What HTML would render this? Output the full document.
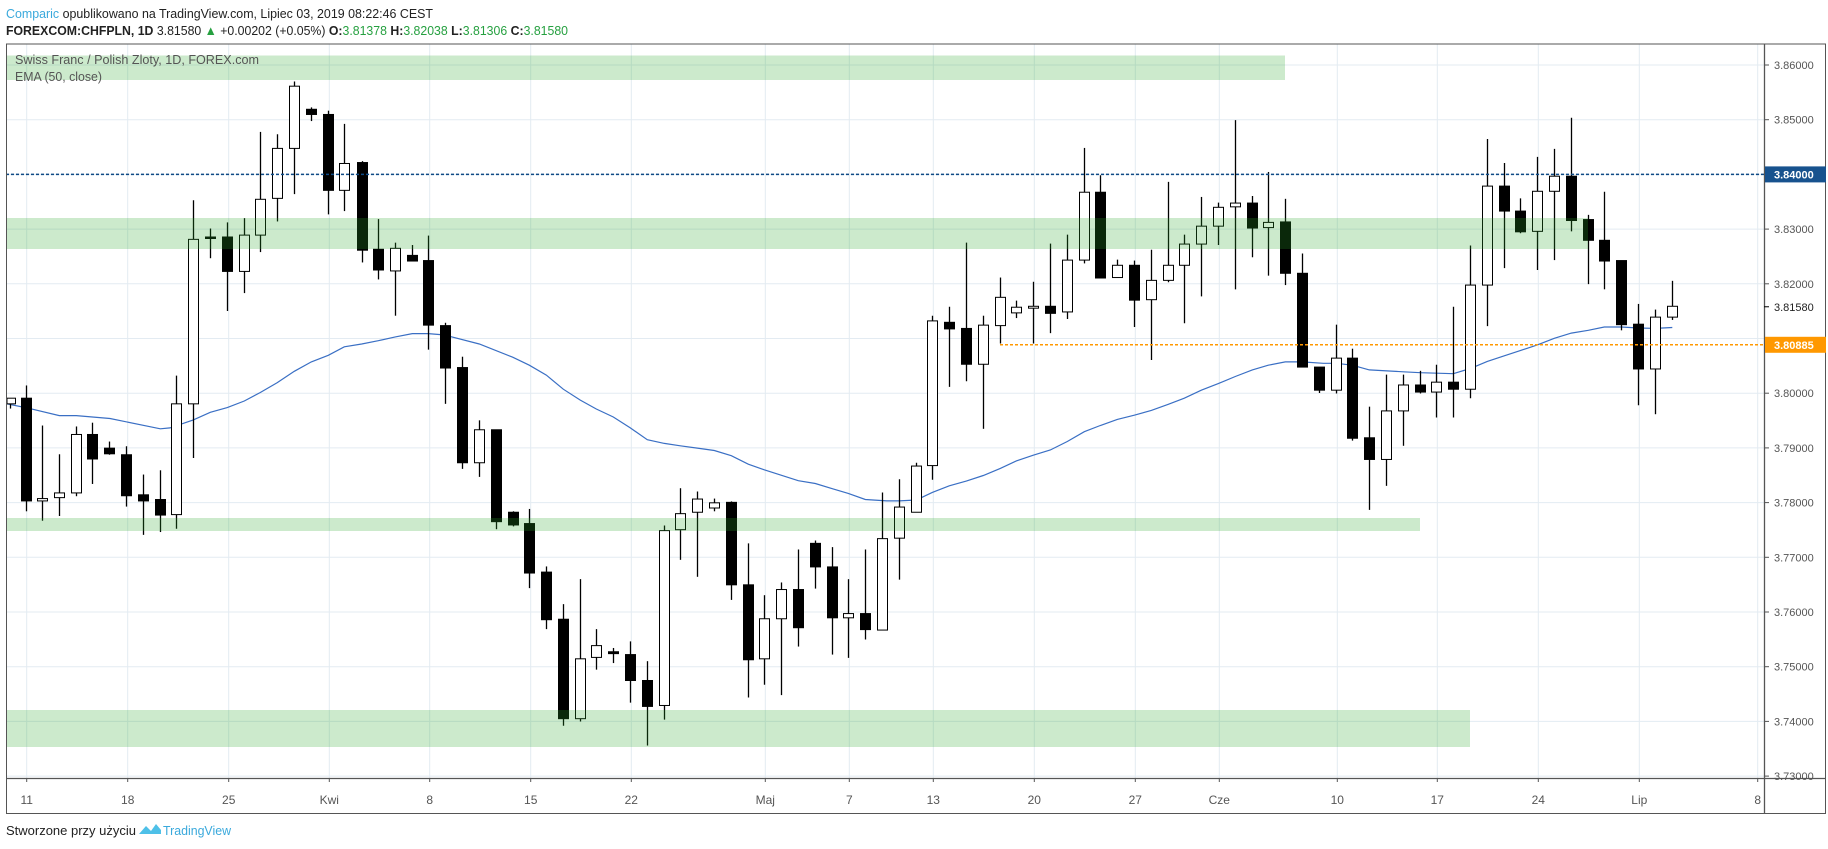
<!DOCTYPE html>
<html><head><meta charset="utf-8"><style>
html,body{margin:0;padding:0;background:#fff;width:1828px;height:849px;overflow:hidden}
svg{display:block}
text{font-family:"Liberation Sans",sans-serif}
</style></head><body>
<svg id="s" width="1828" height="849" viewBox="0 0 1828 849" xmlns="http://www.w3.org/2000/svg">
<text x="6" y="18" font-size="13" fill="#222" textLength="427" lengthAdjust="spacingAndGlyphs"><tspan fill="#3aa9dc">Comparic</tspan> opublikowano na TradingView.com, Lipiec 03, 2019 08:22:46 CEST</text>
<text x="6" y="35" font-size="13" fill="#222" textLength="562" lengthAdjust="spacingAndGlyphs"><tspan font-weight="bold">FOREXCOM:CHFPLN, 1D</tspan> 3.81580 <tspan fill="#26a040">▲</tspan> +0.00202 (+0.05%) <tspan font-weight="bold">O:</tspan><tspan fill="#26a040">3.81378</tspan> <tspan font-weight="bold">H:</tspan><tspan fill="#26a040">3.82038</tspan> <tspan font-weight="bold">L:</tspan><tspan fill="#26a040">3.81306</tspan> <tspan font-weight="bold">C:</tspan><tspan fill="#26a040">3.81580</tspan></text>
<g id="grid"></g>
<g id="ema"></g>
<g id="candles"></g>
<g id="bands"></g>
<g id="lines"></g>
<g id="axes"></g>
<text x="15" y="64" font-size="13" fill="#555" textLength="244" lengthAdjust="spacingAndGlyphs">Swiss Franc / Polish Zloty, 1D, FOREX.com</text>
<text x="15" y="81" font-size="13" fill="#555" textLength="87" lengthAdjust="spacingAndGlyphs">EMA (50, close)</text>
<text x="6" y="835" font-size="13" fill="#222" textLength="130" lengthAdjust="spacingAndGlyphs">Stworzone przy użyciu</text>
<path d="M139 834 L146 826 L151 831 L156 824 L161 830 L161 834 Z" fill="#4ec0e8"/>
<text x="163" y="835" font-size="13" fill="#3aa9dc" textLength="68" lengthAdjust="spacingAndGlyphs">TradingView</text>
</svg>
<script>
var NS="http://www.w3.org/2000/svg";
function el(p,t,a){var e=document.createElementNS(NS,t);for(var k in a)e.setAttribute(k,a[k]);document.getElementById(p).appendChild(e);return e;}
function Y(zy){return 40+zy*0.4713;}
function P(p){return 65+(3.86-p)*5470;}
var L=6,R=1764,T=44,B=778;
// grid
var vx=[26.7,127.7,228.7,329.3,429.7,530.7,631.3,765.3,849.3,933.3,1034.3,1135.3,1219.3,1337.3,1437.3,1538.3,1639.3,1757.7];
var vl=["11","18","25","Kwi","8","15","22","Maj","7","13","20","27","Cze","10","17","24","Lip","8"];
vx.forEach(function(x){el("grid","line",{x1:x,x2:x,y1:T,y2:B,stroke:"#e3ebf2","stroke-width":1});});
for(var i=0;i<=13;i++){var y=P(3.86-i*0.01);el("grid","line",{x1:L,x2:R,y1:y,y2:y,stroke:"#e3ebf2","stroke-width":1});}
// bands
[[55.5,80,1285],[218,249,1588],[518,531,1420],[710,747,1470]].forEach(function(b){
el("bands","rect",{x:L+1,y:b[0],width:b[2]-L-1,height:b[1]-b[0],fill:"rgba(42,167,42,0.24)"});});
// candles [zx,bodyTop,bodyBot,wickTop,wickBot,black]
var Z={0:[[30,760,772,760,782,0],[77,760,978,733,1000,1],[127,973,978,818,1020,0],[178,961,971,879,1010,0],[229,837,961,820,968,0],[277,837,889,812,942,1],[328,866,878,852,880,1],[379,880,967,862,990,1],[430,965,978,922,1050,1],[481,975,1008,913,1044,1],[529,772,1007,712,1037,0],[580,423,772,340,887,0],[631,418,420,400,463,1],[682,418,491,387,575,1],[733,414,491,378,537,0],[781,338,414,195,450,0],[832,230,336,200,385,0],[883,98,230,88,327,0],[934,147,158,143,172,1],[985,158,319,150,370,1],[1033,262,319,178,363,0],[1085,260,446,257,472,1],[1135,444,488,380,508,1],[1186,442,490,430,585,0],[1237,457,469,435,469,1],[1285,468,605,415,657,1],[1335,606,696,600,772,1]],
440:[[67,695,897,672,910,1],[118,827,897,807,927,0],[169,827,1022,827,1038,1],[218,1002,1029,1000,1032,1],[268,1026,1131,995,1163,1],[319,1129,1230,1117,1250,1],[370,1229,1440,1197,1455,1],[421,1313,1440,1144,1446,0],[469,1285,1310,1250,1336,0],[520,1298,1302,1290,1322,1],[571,1304,1359,1276,1406,1],[622,1359,1414,1318,1497,1],[673,1041,1412,1030,1442,0],[721,1005,1039,951,1103,0],[772,974,1002,958,1139,0],[823,982,993,973,1000,0],[874,981,1156,979,1188,1],[925,1156,1315,1068,1395,1],[973,1228,1313,1178,1368,0],[1024,1166,1228,1151,1390,0],[1075,1166,1247,1081,1287,1],[1126,1068,1118,1062,1164,1],[1177,1118,1226,1076,1304,1],[1225,1217,1226,1144,1311,0],[1276,1217,1251,1081,1272,1],[1327,1058,1252,960,1252,0]],
880:[[58,991,1057,932,1145,0],[109,904,1002,897,1002,0],[157,596,903,585,933,0],[208,599,613,566,736,1],[259,612,688,430,724,1],[310,605,688,585,825,0],[361,546,606,504,644,0],[409,567,579,553,590,0],[460,565,569,513,644,0],[511,565,580,432,622,1],[562,467,577,413,592,0],[613,323,467,229,474,0],[661,323,505,287,505,1],[712,478,504,466,504,0],[763,478,552,468,609,1],[814,510,551,445,679,0],[865,478,510,301,514,0],[913,433,478,413,601,0],[964,395,433,333,544,0],[1015,355,395,345,435,0],[1066,346,354,170,529,0],[1117,346,399,331,461,1],[1165,387,398,280,500,0],[1216,386,495,337,520,1],[1267,495,694,453,694,1],[1318,694,743,694,749,1]],
1320:[[49,675,743,604,750,0],[97,675,845,655,850,1],[148,844,890,778,997,1],[199,787,890,710,946,0],[250,732,787,710,861,0],[301,732,747,702,750,1],[349,726,747,689,801,0],[400,726,741,566,801,1],[451,520,741,436,760,0],[502,310,520,210,607,0],[553,310,363,261,484,1],[601,363,407,336,410,1],[652,321,406,248,488,0],[703,289,321,231,467,0],[754,289,383,165,406,1],[805,381,425,371,518,1],[853,425,469,322,529,1],[904,468,604,468,616,1],[955,603,698,560,775,1],[1006,588,698,572,794,0],[1057,565,588,511,594,0]]};
for(var k in Z){Z[k].forEach(function(c){var x=(+k)+c[0]/3;x=Math.round(x)+0.5;
var bt=Y(c[1]),bb=Y(c[2]),wt=Y(c[3]),wb=Y(c[4]);
var lx=Math.max(x,7.5);
el("candles","line",{x1:x,x2:x,y1:wt,y2:wb,stroke:"#000","stroke-width":1.3});
var w=10,x0=x-5; if(x0<7){w-= (7-x0);x0=7;}
el("candles","rect",{x:x0,y:bt,width:w,height:Math.max(bb-bt,1.5),fill:c[5]?"#000":"#fff",stroke:"#000","stroke-width":1});});}
// ema
var E={0:[[20,772],[77,780],[178,797],[229,797],[330,803],[481,825],[510,823],[580,806],[631,790],[682,780],[733,766],[781,748],[832,727],[883,703],[934,683],[985,669],[1033,651],[1085,645],[1135,638],[1186,630],[1237,623],[1285,623],[1335,626]],
440:[[30,629],[118,645],[218,673],[268,690],[319,711],[370,741],[421,764],[469,783],[520,800],[571,823],[622,848],[673,856],[721,861],[772,866],[823,871],[874,882],[925,900],[973,912],[1075,935],[1126,941],[1177,952],[1225,962],[1276,975],[1340,978]],
880:[[58,978],[109,976],[157,960],[208,946],[259,936],[310,924],[361,909],[409,893],[460,881],[511,870],[562,852],[613,831],[661,818],[712,805],[763,796],[814,786],[865,773],[913,760],[964,743],[1015,729],[1066,714],[1117,700],[1165,690],[1216,683],[1267,683],[1330,686]],
1320:[[49,686],[97,690],[148,700],[250,704],[301,706],[400,708],[451,697],[502,682],[553,670],[601,659],[652,647],[703,633],[754,622],[805,616],[853,609],[904,609],[955,611],[1006,612],[1057,610]]};
var pts=[];for(var k in E){E[k].forEach(function(p){pts.push(((+k)+p[0]/3).toFixed(1)+","+Y(p[1]).toFixed(1));});}
el("ema","polyline",{points:pts.join(" "),fill:"none",stroke:"#3a6fc4","stroke-width":1.2});
// horizontal lines
var yb=P(3.84);el("lines","line",{x1:L,x2:R,y1:yb,y2:yb,stroke:"#0f4a85","stroke-width":1.5,"stroke-dasharray":"3,2"});
var yo=P(3.80885);el("lines","line",{x1:1000,x2:R,y1:yo,y2:yo,stroke:"#ff9800","stroke-width":1.5,"stroke-dasharray":"3,2"});
// axes frame
var ax="axes";
el(ax,"line",{x1:L,x2:1826,y1:T,y2:T,stroke:"#555","stroke-width":1});
el(ax,"line",{x1:L+0.5,x2:L+0.5,y1:T,y2:813,stroke:"#555","stroke-width":1});
el(ax,"line",{x1:R+0.5,x2:R+0.5,y1:T,y2:813,stroke:"#555","stroke-width":1.3});
el(ax,"line",{x1:1825.5,x2:1825.5,y1:T,y2:813,stroke:"#555","stroke-width":1});
el(ax,"line",{x1:L,x2:1826,y1:B+0.5,y2:B+0.5,stroke:"#555","stroke-width":1.3});
el(ax,"line",{x1:L,x2:1826,y1:813.5,y2:813.5,stroke:"#555","stroke-width":1});
for(var i=0;i<=13;i++){var p=3.86-i*0.01,y=P(p);
if(Math.abs(p-3.81)<0.001)continue;
el(ax,"line",{x1:R,x2:R+5,y1:y,y2:y,stroke:"#555"});
if(Math.abs(p-3.84)<0.001)continue;
var t=el(ax,"text",{x:1774,y:y+4,"font-size":11,fill:"#555"});t.textContent=p.toFixed(5);}
el(ax,"rect",{x:R+1,y:yb-8,width:61,height:16,fill:"#17528e"});
var t=el(ax,"text",{x:1774,y:yb+4,"font-size":11,fill:"#fff","font-weight":"bold"});t.textContent="3.84000";
var yl=P(3.8158);el(ax,"line",{x1:R,x2:R+5,y1:yl,y2:yl,stroke:"#000"});
t=el(ax,"text",{x:1774,y:yl+4,"font-size":11,fill:"#222"});t.textContent="3.81580";
el(ax,"rect",{x:R+1,y:yo-8,width:61,height:16,fill:"#ff9800"});
t=el(ax,"text",{x:1774,y:yo+4,"font-size":11,fill:"#fff","font-weight":"bold"});t.textContent="3.80885";
vx.forEach(function(x,i){el(ax,"line",{x1:x,x2:x,y1:B,y2:B+4,stroke:"#555"});
var t=el(ax,"text",{x:x,y:804,"font-size":12,fill:"#555","text-anchor":"middle"});t.textContent=vl[i];});
</script>
</body></html>
